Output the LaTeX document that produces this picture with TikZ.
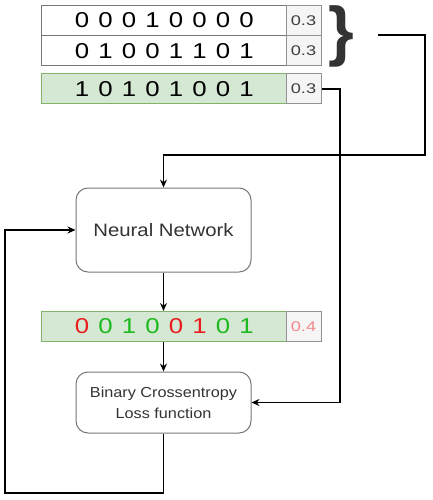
\documentclass[tikz,border=0pt]{standalone}
\usepackage{fontspec}
\setmainfont{Liberation Sans}
\usepackage{tikz}
\usetikzlibrary{arrows.meta}

\definecolor{boxline}{HTML}{777777}
\definecolor{cellfill}{HTML}{F5F5F5}
\definecolor{labfill}{HTML}{D5E8D4}
\definecolor{labline}{HTML}{82B366}
\definecolor{good}{RGB}{30,185,30}
\definecolor{bad}{RGB}{232,30,30}
\definecolor{probpink}{HTML}{F08A8A}

\newcommand{\widen}[2]{\scalebox{#1}[1]{#2}}

\tikzset{
  rowbox/.style={draw=boxline, line width=1pt, minimum width=245pt, minimum height=30pt, inner sep=0pt},
  labbox/.style={rowbox, draw=labline, fill=labfill},
  cellbox/.style={draw=boxline!80, line width=1pt, fill=cellfill, minimum width=35pt, minimum height=30pt, inner sep=0pt,
    text=black!75, font=\fontsize{14}{16}\selectfont},
  bit/.style={inner sep=0pt, font=\fontsize{21.5}{24}\selectfont},
  block/.style={draw=boxline, line width=1pt, rounded corners=12pt, minimum width=175pt, align=center, text=black!80},
  arr/.style={line width=1.4pt, -{Stealth[length=8pt,width=7pt]}},
  wire/.style={line width=1.4pt}
}

\begin{document}
\begin{tikzpicture}[x=1pt,y=-1pt]
    \useasboundingbox (0,0) rectangle (432,500);
    \pgfmathsetmacro{\rx}{163.5}
    \pgfmathsetmacro{\cx}{303.5}
    \pgfmathsetmacro{\ya}{20.5}
    \pgfmathsetmacro{\yb}{51}
    \pgfmathsetmacro{\yl}{89}
    \pgfmathsetmacro{\yo}{326.5}

    % Draw the input rows
    \node [rowbox] (rowA) at (\rx,\ya) {};
    \node [cellbox] (probA) at (\cx,\ya) {\widen{1.3}{0.3}};
    \node [rowbox] (rowB) at (\rx,\yb) {};
    \node [cellbox] (probB) at (\cx,\yb) {\widen{1.3}{0.3}};
    \node [labbox] (rowL) at (\rx,\yl) {};
    \node [cellbox] (probL) at (\cx,\yl) {\widen{1.3}{0.3}};

    \foreach \b [count=\i] in {0,0,0,1,0,0,0,0}
        \node [bit] (a\i) at (58.5+23.5*\i,\ya) {\widen{1.2}{\b}};
    \foreach \b [count=\i] in {0,1,0,0,1,1,0,1}
        \node [bit] (b\i) at (58.5+23.5*\i,\yb) {\widen{1.2}{\b}};
    \foreach \b [count=\i] in {1,0,1,0,1,0,0,1}
        \node [bit] (l\i) at (58.5+23.5*\i,\yl) {\widen{1.2}{\b}};

    % Brace round the two inputs
    \node [text=black!80, inner sep=0pt, font=\fontsize{66}{66}\selectfont\bfseries] (brace) at (341,36) {\}};
    \coordinate (braceOut) at (378,35);
    \coordinate (turnA) at (425,155);

    % Blocks
    \node [block, minimum height=84pt, font=\fontsize{18}{22}\selectfont] (net) at (\rx,230) {\widen{1.13}{Neural Network}};
    \node [labbox] (rowO) at (\rx,\yo) {};
    \node [cellbox, text=probpink] (probO) at (\cx,\yo) {\widen{1.3}{0.4}};
    \foreach \b/\c [count=\i] in {0/bad,0/good,1/good,0/good,0/bad,1/bad,0/good,1/good}
        \node [bit, text=\c] (o\i) at (58.5+23.5*\i,\yo) {\widen{1.2}{\b}};
    \node [block, minimum height=61pt, font=\fontsize{14.5}{21}\selectfont] (loss) at (\rx,402.5)
        {\widen{1.12}{Binary Crossentropy}\\\widen{1.12}{Loss function}};

    \coordinate (turnB) at (340,402.5);
    \coordinate (turnC) at (5,493);

    % Connectors
    \draw [arr] (braceOut) -| (turnA) -| (net.north);
    \draw [arr] (probL.east) -| (turnB) -- (loss.east);
    \draw [arr] (net.south) -- (rowO.north);
    \draw [arr] (rowO.south) -- (loss.north);
    \draw [arr] (loss.south) |- (turnC) |- (net.west);
\end{tikzpicture}
\end{document}
